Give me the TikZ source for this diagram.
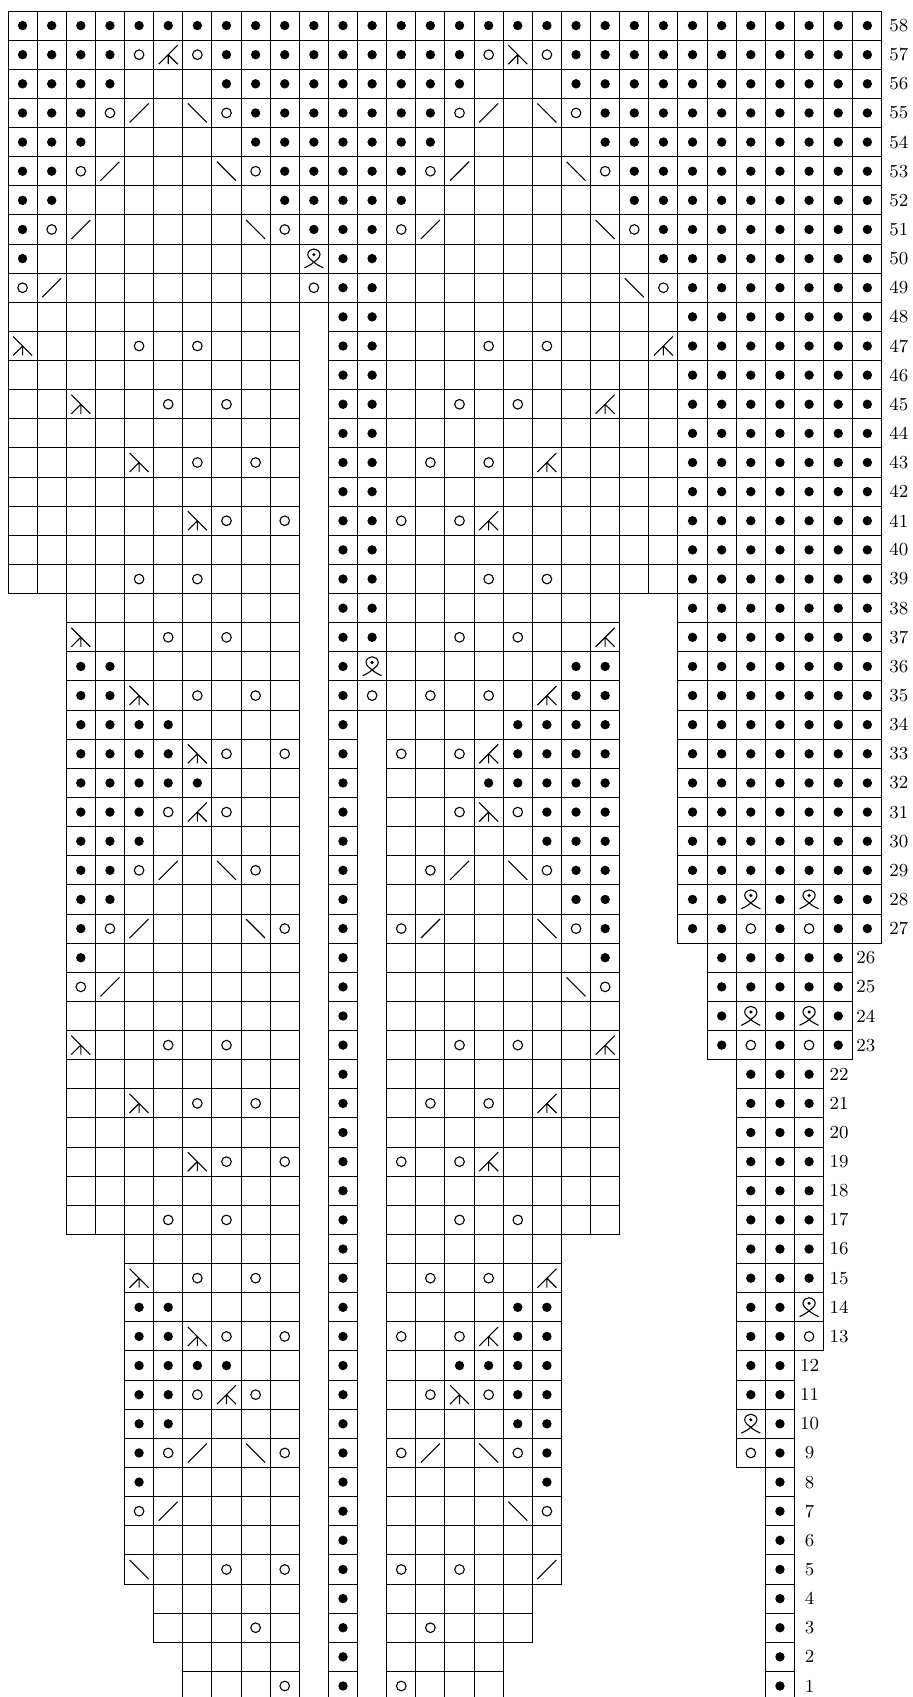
\documentclass[tikz,border=0pt]{standalone}
\usepackage{fontspec}
\newcount\colc
\newcommand\pitch{29.13}
\tikzset{
  x=0.5pt,y=-0.5pt,
  gridcell/.style={draw=black,line width=0.5pt},
  purl/.style={fill=black,draw=none},
  yarn/.style={draw=black,line width=0.55pt,fill=none},
  stitch/.style={draw=black,line width=0.55pt,line cap=butt},
  rowlabel/.style={anchor=center,inner sep=0pt,font=\fontsize{9.2}{10}\selectfont}
}
\newcommand\syme{}
\newcommand\symp{\fill[purl] (0,0) circle[radius=2.35pt];}
\newcommand\symo{\draw[yarn] (0,0) circle[radius=2.4pt];}
\newcommand\syml{\draw[stitch] (-9.5,9.5) -- (9.5,-9.5);}
\newcommand\symr{\draw[stitch] (-9.5,-9.5) -- (9.5,9.5);}
\newcommand\symB{\draw[stitch] (-9.5,9.5) -- (9.5,-9.5) (0,0) -- (9.5,9.5) (0,0) -- (0,9.5);}
\newcommand\symA{\draw[stitch] (-9.5,-9.5) -- (9.5,9.5) (0,0) -- (-9.5,9.5) (0,0) -- (0,9.5);}
\newcommand\symQ{%
  \draw[stitch] (-9.5,9.3) .. controls (-6.5,7.8) and (-2.5,6) .. (0,3.5)
     .. controls (3,1) and (6.1,-1) .. (6.1,-4)
     .. controls (6.1,-7.5) and (3,-9.6) .. (0,-9.6)
     .. controls (-3,-9.6) and (-6.1,-7.5) .. (-6.1,-4)
     .. controls (-6.1,-1) and (-3,1) .. (0,3.5)
     .. controls (2.5,6) and (6.5,7.8) .. (9.5,9.3);
  \fill[purl] (0,-4) circle[radius=0.85pt];}
\def\parsecells#1{\ifx#1\relax\else\chartcell{#1}\expandafter\parsecells\fi}
\newcommand\chartcell[1]{%
  \advance\colc by 1\relax
  \if#1x\else
    \begin{scope}[shift={({8+\pitch*(\the\colc-1)},{11+\pitch*(58-\rowno)})}]
      \draw[gridcell] (0,0) rectangle (\pitch,\pitch);
      \begin{scope}[shift={(\pitch/2,\pitch/2)}]
        \csname sym#1\endcsname
      \end{scope}
    \end{scope}
  \fi}
\newcommand\labeloffset{\ifnum\colc=30 17\else\ifnum\colc=29 13\else\ifnum\colc=28 15.5\else 15\fi\fi\fi}
\newcommand\chartrow[2]{%
  \def\rowno{#1}\colc=0\relax
  \parsecells#2\relax
  \node[rowlabel] (label#1) at ({8+\pitch*\the\colc+\labeloffset},{11+\pitch*(58-#1+0.5)}) {#1};}
\begin{document}
\begin{tikzpicture}
\useasboundingbox (0,0) rectangle (912,1697);
\clip (0,0) rectangle (912,1697);
\chartrow{58}{ppppp ppppp ppppp ppppp ppppp ppppp}
\chartrow{57}{ppppo Boppp ppppp poAop ppppp ppppp}
\chartrow{56}{ppppe eeppp ppppp peeep ppppp ppppp}
\chartrow{55}{pppol eropp ppppp olero ppppp ppppp}
\chartrow{54}{pppee eeepp ppppp eeeee ppppp ppppp}
\chartrow{53}{ppole eerop ppppo leeer opppp ppppp}
\chartrow{52}{ppeee eeeep ppppe eeeee epppp ppppp}
\chartrow{51}{polee eeero pppol eeeee roppp ppppp}
\chartrow{50}{peeee eeeee Qppee eeeee eeppp ppppp}
\chartrow{49}{oleee eeeee oppee eeeee eropp ppppp}
\chartrow{48}{eeeee eeeee xppee eeeee eeepp ppppp}
\chartrow{47}{Aeeeo eoeee xppee eoeoe eeBpp ppppp}
\chartrow{46}{eeeee eeeee xppee eeeee eeepp ppppp}
\chartrow{45}{eeAee oeoee xppee oeoee Beepp ppppp}
\chartrow{44}{eeeee eeeee xppee eeeee eeepp ppppp}
\chartrow{43}{eeeeA eoeoe xppeo eoeBe eeepp ppppp}
\chartrow{42}{eeeee eeeee xppee eeeee eeepp ppppp}
\chartrow{41}{eeeee eAoeo xppoe oBeee eeepp ppppp}
\chartrow{40}{eeeee eeeee xppee eeeee eeepp ppppp}
\chartrow{39}{eeeeo eoeee xppee eoeoe eeepp ppppp}
\chartrow{38}{xxeee eeeee xppee eeeee exxpp ppppp}
\chartrow{37}{xxAee oeoee xppee oeoee Bxxpp ppppp}
\chartrow{36}{xxppe eeeee xpQee eeeep pxxpp ppppp}
\chartrow{35}{xxppA eoeoe xpoeo eoeBp pxxpp ppppp}
\chartrow{34}{xxppp peeee xpxee eeppp pxxpp ppppp}
\chartrow{33}{xxppp pAoeo xpxoe oBppp pxxpp ppppp}
\chartrow{32}{xxppp ppeee xpxee epppp pxxpp ppppp}
\chartrow{31}{xxppp oBoee xpxee oAopp pxxpp ppppp}
\chartrow{30}{xxppp eeeee xpxee eeepp pxxpp ppppp}
\chartrow{29}{xxppo leroe xpxeo lerop pxxpp ppppp}
\chartrow{28}{xxppe eeeee xpxee eeeep pxxpp QpQpp}
\chartrow{27}{xxpol eeero xpxol eeero pxxpp opopp}
\chartrow{26}{xxpee eeeee xpxee eeeee pxxxp pppp}
\chartrow{25}{xxole eeeee xpxee eeeer oxxxp pppp}
\chartrow{24}{xxeee eeeee xpxee eeeee exxxp QpQp}
\chartrow{23}{xxAee oeoee xpxee oeoee Bxxxp opop}
\chartrow{22}{xxeee eeeee xpxee eeeee exxxx ppp}
\chartrow{21}{xxeeA eoeoe xpxeo eoeBe exxxx ppp}
\chartrow{20}{xxeee eeeee xpxee eeeee exxxx ppp}
\chartrow{19}{xxeee eAoeo xpxoe oBeee exxxx ppp}
\chartrow{18}{xxeee eeeee xpxee eeeee exxxx ppp}
\chartrow{17}{xxeee oeoee xpxee oeoee exxxx ppp}
\chartrow{16}{xxxxe eeeee xpxee eeeex xxxxx ppp}
\chartrow{15}{xxxxA eoeoe xpxeo eoeBx xxxxx ppp}
\chartrow{14}{xxxxp peeee xpxee eeppx xxxxx ppQ}
\chartrow{13}{xxxxp pAoeo xpxoe oBppx xxxxx ppo}
\chartrow{12}{xxxxp pppee xpxee ppppx xxxxx pp}
\chartrow{11}{xxxxp poBoe xpxeo Aoppx xxxxx pp}
\chartrow{10}{xxxxp peeee xpxee eeppx xxxxx Qp}
\chartrow{9}{xxxxp olero xpxol eropx xxxxx op}
\chartrow{8}{xxxxp eeeee xpxee eeepx xxxxx xp}
\chartrow{7}{xxxxo leeee xpxee eerox xxxxx xp}
\chartrow{6}{xxxxe eeeee xpxee eeeex xxxxx xp}
\chartrow{5}{xxxxr eeoeo xpxoe oeelx xxxxx xp}
\chartrow{4}{xxxxx eeeee xpxee eeexx xxxxx xp}
\chartrow{3}{xxxxx eeeoe xpxeo eeexx xxxxx xp}
\chartrow{2}{xxxxx xeeee xpxee eexxx xxxxx xp}
\chartrow{1}{xxxxx xeeeo xpxoe eexxx xxxxx xp}
\end{tikzpicture}
\end{document}
